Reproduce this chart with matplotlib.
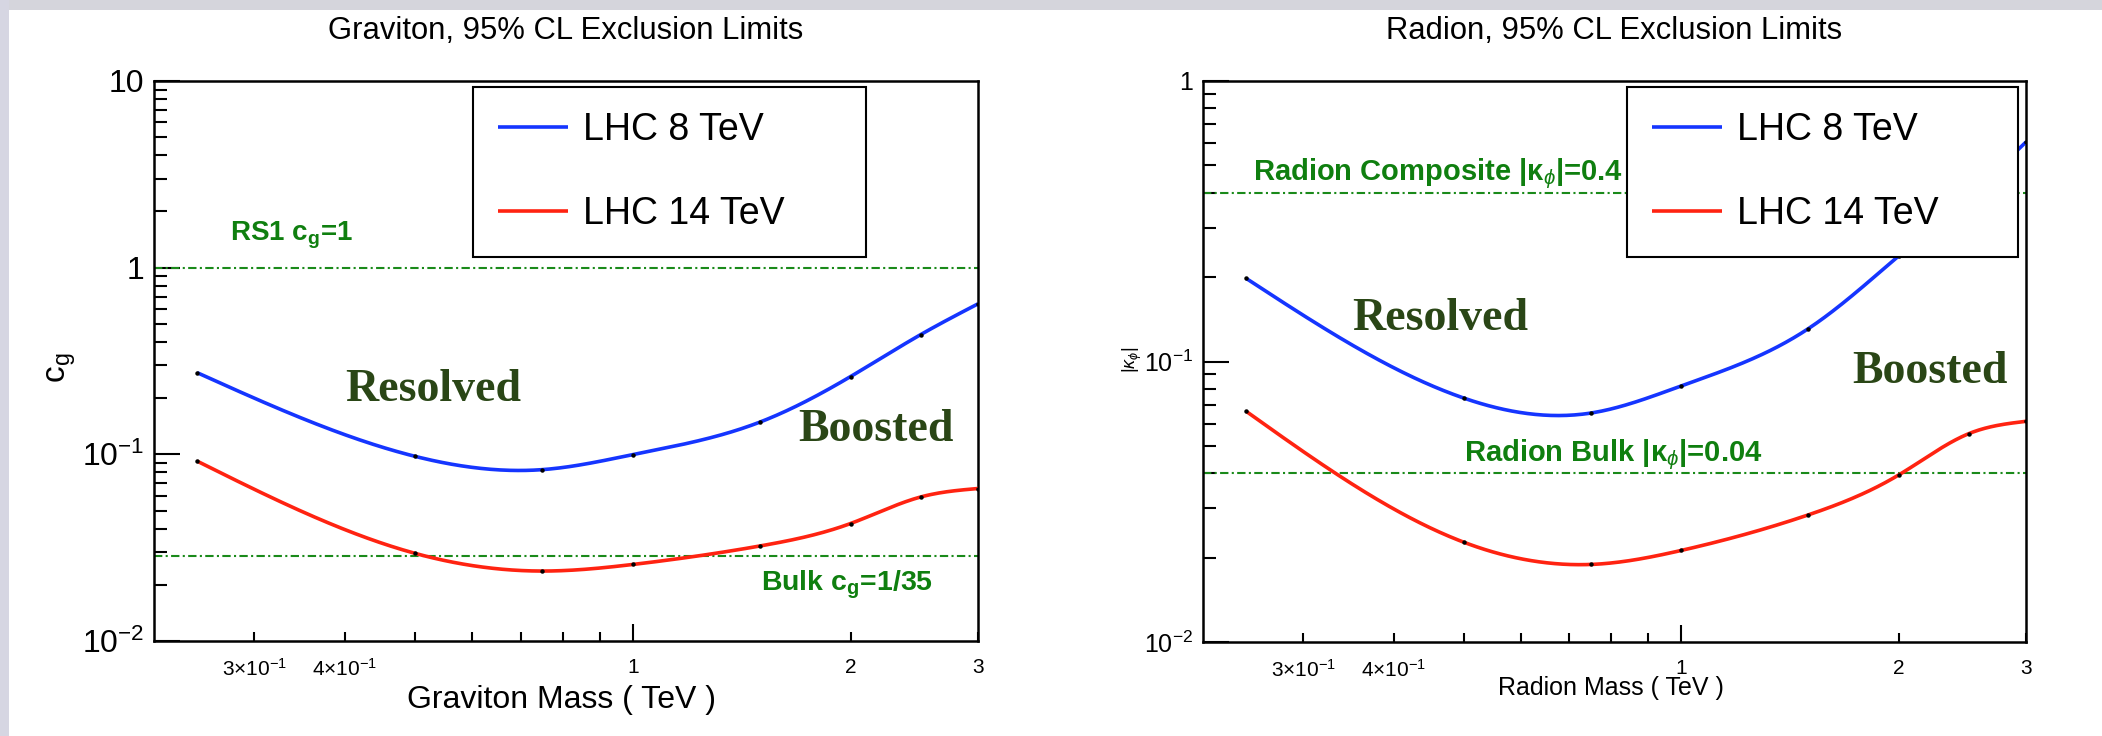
import numpy as np
import matplotlib
matplotlib.use("Agg")
import matplotlib.pyplot as plt
from matplotlib.ticker import FixedLocator, FuncFormatter, LogLocator, NullFormatter
from matplotlib.patches import Rectangle

# ---------------- data ----------------
mass = [0.25, 0.5, 0.75, 1.0, 1.5, 2.0, 2.5, 3.0]
graviton_8tev = [0.274, 0.0976, 0.0828, 0.0996, 0.149, 0.261, 0.438, 0.64]
graviton_14tev = [0.092, 0.0295, 0.0237, 0.0257, 0.0323, 0.0426, 0.0591, 0.0656]
radion_8tev = [0.198, 0.0741, 0.0655, 0.0818, 0.131, 0.238, 0.39, 0.606]
radion_14tev = [0.0665, 0.0227, 0.0189, 0.0212, 0.0284, 0.0394, 0.0553, 0.0612]

graviton_refs = [1.0, 1.0 / 35]
radion_refs = [0.4, 0.04]

series_labels = ["LHC 8 TeV", "LHC 14 TeV"]
x_tick_values = [0.3, 0.4, 1, 2, 3]
x_tick_labels = [r"$\mathregular{3{\times}10^{-1}}$", r"$\mathregular{4{\times}10^{-1}}$", "1", "2", "3"]
y_tick_values = [0.01, 0.1, 1, 10]
y_tick_labels = [r"$\mathregular{10^{-2}}$", r"$\mathregular{10^{-1}}$", "1", "10"]

# ---------------- style ----------------
plt.rcParams["font.family"] = ["Liberation Sans", "DejaVu Sans"]
plt.rcParams["mathtext.fontset"] = "custom"
plt.rcParams["mathtext.rm"] = "Liberation Sans"
plt.rcParams["mathtext.it"] = "Liberation Sans:italic"
plt.rcParams["mathtext.bf"] = "Liberation Sans:bold"

BLUE = "#1535ff"
RED = "#ff2311"
GREEN_LINE = "#1a8a1a"
GREEN_TEXT = "#0f7f0f"
DARK_GREEN = "#2a4616"


def smooth(xv, yv, n=400):
    """Natural cubic spline through the points in log-log space (like ROOT 'C')."""
    lx, ly = np.log10(np.asarray(xv)), np.log10(np.asarray(yv))
    k = len(lx)
    h = np.diff(lx)
    A = np.zeros((k, k))
    b = np.zeros(k)
    A[0, 0] = A[-1, -1] = 1
    for i in range(1, k - 1):
        A[i, i - 1] = h[i - 1]
        A[i, i] = 2 * (h[i - 1] + h[i])
        A[i, i + 1] = h[i]
        b[i] = 3 * ((ly[i + 1] - ly[i]) / h[i] - (ly[i] - ly[i - 1]) / h[i - 1])
    c = np.linalg.solve(A, b)
    bb = (ly[1:] - ly[:-1]) / h - h * (2 * c[:-1] + c[1:]) / 3
    d = (c[1:] - c[:-1]) / (3 * h)
    xs = np.linspace(lx[0], lx[-1], n)
    idx = np.clip(np.searchsorted(lx, xs) - 1, 0, k - 2)
    dx = xs - lx[idx]
    ys = ly[idx] + bb[idx] * dx + c[idx] * dx ** 2 + d[idx] * dx ** 3
    return 10 ** xs, 10 ** ys


def lookup(values, labels):
    def f(v, pos):
        for tv, tl in zip(values, labels):
            if abs(v - tv) < 1e-6 * max(1, tv):
                return tl
        return ""
    return f


fig = plt.figure(figsize=(21.02, 7.36), dpi=100, facecolor="white")
fig.patches.append(Rectangle((0, 1 - 10 / 736), 1, 10 / 736, transform=fig.transFigure,
                             facecolor="#d5d5dc", edgecolor="none", zorder=0))
fig.patches.append(Rectangle((0, 0), 9 / 2102, 1, transform=fig.transFigure,
                             facecolor="#d6d6e2", edgecolor="none", zorder=0))

axL = fig.add_axes([154 / 2102, 1 - 641 / 736, 824 / 2102, 560 / 736])
axR = fig.add_axes([1203 / 2102, 1 - 642 / 736, 823 / 2102, 561 / 736])


def setup(ax, ylim, ytick_size, title, xlabel, xlabel_size, xlabel_pos, ylabel, ylabel_size, ylabel_pos):
    ax.set_xscale("log")
    ax.set_yscale("log")
    ax.set_xlim(0.218, 3.0)
    ax.set_ylim(*ylim)
    for s in ax.spines.values():
        s.set_linewidth(1.8)
        s.set_color("black")
    ax.xaxis.set_major_locator(FixedLocator([1]))
    ax.xaxis.set_minor_locator(FixedLocator([0.3, 0.4, 0.5, 0.6, 0.7, 0.8, 0.9, 2, 3]))
    ax.xaxis.set_major_formatter(FuncFormatter(lookup(x_tick_values, x_tick_labels)))
    ax.xaxis.set_minor_formatter(FuncFormatter(lookup(x_tick_values, x_tick_labels)))
    ax.yaxis.set_major_locator(LogLocator(base=10))
    ax.yaxis.set_minor_locator(LogLocator(base=10, subs=np.arange(2, 10)))
    ax.yaxis.set_major_formatter(FuncFormatter(lookup(y_tick_values, y_tick_labels)))
    ax.yaxis.set_minor_formatter(NullFormatter())
    ax.tick_params(axis="x", which="major", direction="in", length=12, width=1.5, labelsize=15, pad=12)
    ax.tick_params(axis="x", which="minor", direction="in", length=6.5, width=1.5, labelsize=15, pad=12)
    ax.tick_params(axis="y", which="major", direction="in", length=19, width=1.5, labelsize=ytick_size, pad=7)
    ax.tick_params(axis="y", which="minor", direction="in", length=9.5, width=1.5)
    ax.set_title(title, fontsize=22.3, y=1.06, va="baseline")
    ax.set_xlabel(xlabel, fontsize=xlabel_size, va="baseline")
    ax.xaxis.set_label_coords(*xlabel_pos)
    ax.set_ylabel(ylabel, fontsize=ylabel_size, va="center", ha="center")
    ax.yaxis.set_label_coords(*ylabel_pos)


setup(axL, (0.01, 10), 23, "Graviton, 95% CL Exclusion Limits", "Graviton Mass ( TeV )", 23,
      (0.495, -0.1196), r"$\mathregular{c_g}$", 24, (-0.1117, 0.4875))
setup(axR, (0.01, 1), 18, "Radion, 95% CL Exclusion Limits", "Radion Mass ( TeV )", 18,
      (0.496, -0.0945), r"|$\kappa_{\phi}$|", 13, (-0.0863, 0.503))

dash_dot = (0, (4, 1.6, 1, 1.6))

for ax, s8, s14, refs in [(axL, graviton_8tev, graviton_14tev, graviton_refs),
                          (axR, radion_8tev, radion_14tev, radion_refs)]:
    for r in refs:
        ax.axhline(r, color=GREEN_LINE, lw=1.5, ls=dash_dot, zorder=2)
    for vals, col, lab in [(s8, BLUE, series_labels[0]), (s14, RED, series_labels[1])]:
        xs, ys = smooth(mass, vals)
        ax.plot(xs, ys, color=col, lw=2.6, label=lab, zorder=3, solid_capstyle="butt")
        ax.plot(mass, vals, ls="none", marker="o", ms=2.2, color="black", zorder=4)
    leg_anchor = (0.387, 0.687, 0.477, 0.302) if ax is axL else (0.515, 0.687, 0.475, 0.302)
    leg = ax.legend(loc="upper left", bbox_to_anchor=leg_anchor, mode="expand", borderaxespad=0,
                    fontsize=27, handlelength=1.87, handletextpad=0.4, borderpad=0.66,
                    labelspacing=1.28, fancybox=False, framealpha=1, edgecolor="black")
    leg.get_frame().set_linewidth(1.5)
    leg.set_zorder(10)

# annotations - graviton
text_kw = dict(color=GREEN_TEXT, fontweight="bold", ha="left", va="baseline", zorder=5)
axL.text(0.278, 1.4, r"RS1 c$_\mathbf{g}$=1", fontsize=20, **text_kw)
axL.text(1.506, 0.01875, r"Bulk c$_\mathbf{g}$=1/35", fontsize=20.5, **text_kw)
serif_kw = dict(color=DARK_GREEN, fontweight="bold", family="Liberation Serif", fontsize=33,
                ha="left", va="baseline", zorder=5)
axL.text(0.40, 0.1928, "Resolved", **serif_kw)
axL.text(1.695, 0.1178, "Boosted", **serif_kw)

# annotations - radion
axR.text(0.256, 0.443, r"Radion Composite |κ$_{\phi}$|=0.4", fontsize=21, **text_kw)
axR.text(0.5, 0.0442, r"Radion Bulk |κ$_{\phi}$|=0.04", fontsize=21, **text_kw)
axR.text(0.351, 0.129, "Resolved", **serif_kw)
axR.text(1.724, 0.0836, "Boosted", **serif_kw)

fig.savefig("out.png", dpi=100, facecolor="white")
